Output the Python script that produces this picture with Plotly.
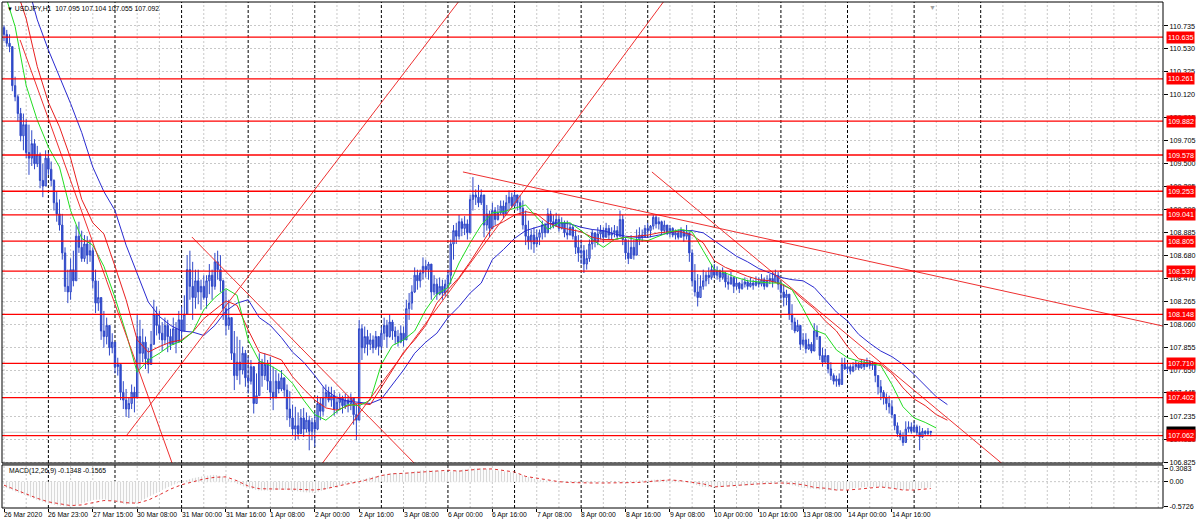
import plotly.graph_objects as go

# ---------------- data ----------------
first_open = 110.72
closes = [
 110.66,110.58,110.55,110.20,110.10,109.95,109.75,109.85,109.60,109.55,
 109.68,109.50,109.58,109.35,109.30,109.55,109.45,109.35,109.15,109.05,
 108.95,108.70,108.40,108.35,108.55,108.45,108.85,108.75,108.65,108.78,
 108.68,108.72,108.45,108.25,108.30,108.00,107.95,108.05,107.85,107.90,
 107.68,107.70,107.45,107.38,107.30,107.35,107.45,107.40,107.95,107.80,
 107.90,107.75,107.70,107.88,108.15,108.05,107.98,107.92,108.05,107.95,
 107.88,108.02,107.90,108.10,108.00,108.15,108.55,108.40,108.30,108.45,
 108.35,108.40,108.30,108.45,108.50,108.40,108.62,108.55,108.45,108.20,
 108.05,108.12,107.80,107.60,107.72,107.65,107.80,107.58,107.55,107.68,
 107.35,107.42,107.72,107.60,107.70,107.55,107.45,107.40,107.55,107.48,
 107.58,107.47,107.30,107.22,107.12,107.15,107.08,107.22,107.12,107.20,
 107.10,107.18,107.12,107.35,107.28,107.40,107.45,107.38,107.42,107.30,
 107.36,107.40,107.33,107.38,107.35,107.40,107.25,107.20,108.02,107.85,
 107.95,107.88,107.92,107.85,107.95,107.86,107.98,108.05,107.95,108.08,
 108.00,107.95,107.90,107.98,107.92,108.20,108.25,108.35,108.50,108.45,
 108.52,108.58,108.55,108.60,108.35,108.42,108.33,108.40,108.34,108.42,
 108.50,108.78,108.90,108.85,108.98,108.92,108.96,108.88,109.18,109.22,
 109.20,109.15,109.22,108.95,109.05,108.92,109.08,109.00,109.06,109.12,
 109.05,109.15,109.20,109.12,109.22,109.15,109.10,108.95,108.85,108.80,
 108.86,108.78,108.84,108.88,108.95,108.88,109.05,108.98,108.94,109.00,
 108.92,108.97,108.88,108.86,108.93,108.85,108.75,108.70,108.72,108.60,
 108.65,108.78,108.88,108.80,108.87,108.90,108.84,108.92,108.86,108.88,
 108.90,108.85,109.00,108.82,108.70,108.65,108.75,108.68,108.82,108.86,
 108.84,108.92,108.90,108.94,109.02,108.96,108.98,108.90,108.95,108.88,
 108.92,108.86,108.88,108.84,108.89,108.85,108.88,108.70,108.45,108.35,
 108.30,108.40,108.45,108.50,108.48,108.55,108.50,108.54,108.48,108.52,
 108.44,108.42,108.48,108.40,108.43,108.38,108.42,108.44,108.40,108.43,
 108.41,108.44,108.42,108.46,108.40,108.45,108.47,108.44,108.50,108.42,
 108.35,108.30,108.33,108.15,108.08,108.00,108.05,107.88,107.92,107.84,
 107.88,107.82,108.00,107.95,107.78,107.72,107.78,107.66,107.60,107.55,
 107.57,107.52,107.70,107.66,107.68,107.64,107.68,107.70,107.67,107.71,
 107.68,107.72,107.69,107.70,107.60,107.50,107.45,107.40,107.35,107.32,
 107.25,107.15,107.08,107.05,107.00,107.12,107.14,107.10,107.14,107.09,
 107.05,107.10,107.08,107.10,107.092]
highs = [
 110.74,110.70,110.66,110.55,110.28,110.12,110.00,109.95,109.90,109.85,
 109.80,109.72,109.66,109.60,109.50,109.62,109.60,109.52,109.36,109.25,
 109.18,109.05,108.75,108.55,108.65,108.72,108.95,108.98,108.90,108.86,
 108.85,108.82,108.75,108.55,108.45,108.30,108.18,108.12,108.00,107.98,
 107.82,107.76,107.65,107.55,107.48,107.40,107.52,107.50,108.15,108.10,
 108.02,107.95,107.85,108.00,108.28,108.22,108.18,108.08,108.12,108.10,
 108.02,108.12,108.08,108.18,108.22,108.32,108.68,108.72,108.62,108.55,
 108.55,108.46,108.50,108.50,108.60,108.55,108.70,108.72,108.68,108.46,
 108.37,108.28,108.07,108.00,107.95,107.92,107.86,107.83,107.77,107.74,
 107.65,107.62,107.80,107.75,107.80,107.74,107.77,107.68,107.65,107.62,
 107.65,107.58,107.52,107.46,107.34,107.32,107.27,107.30,107.31,107.27,
 107.24,107.22,107.27,107.42,107.40,107.50,107.52,107.50,107.50,107.47,
 107.42,107.44,107.42,107.44,107.42,107.44,107.40,107.35,108.10,108.06,
 108.04,108.01,107.98,107.96,108.00,107.95,108.04,108.12,108.10,108.15,
 108.10,108.04,108.01,108.05,108.04,108.28,108.34,108.41,108.57,108.55,
 108.55,108.66,108.64,108.62,108.55,108.50,108.47,108.48,108.46,108.46,
 108.55,108.82,108.95,108.97,109.04,109.01,109.03,109.00,109.22,109.38,
 109.27,109.31,109.27,109.15,109.13,109.08,109.15,109.11,109.13,109.17,
 109.17,109.22,109.26,109.24,109.26,109.22,109.22,109.17,109.08,108.99,
 108.91,108.93,108.91,108.91,108.99,108.97,109.10,109.08,109.04,109.06,
 109.04,109.02,108.99,108.99,108.97,108.95,108.91,108.86,108.82,108.77,
 108.73,108.82,108.91,108.88,108.93,108.95,108.93,108.97,108.95,108.93,
 108.95,108.94,109.08,109.04,108.84,108.82,108.86,108.82,108.91,108.93,
 108.91,108.95,108.97,108.95,109.04,109.04,109.02,108.99,108.99,108.95,
 108.95,108.93,108.91,108.91,108.93,108.91,108.95,108.86,108.73,108.60,
 108.51,108.50,108.55,108.53,108.57,108.60,108.60,108.58,108.55,108.57,
 108.53,108.50,108.53,108.46,108.48,108.44,108.46,108.48,108.46,108.48,
 108.46,108.49,108.48,108.51,108.48,108.50,108.51,108.53,108.55,108.53,
 108.44,108.42,108.37,108.28,108.24,108.12,108.10,108.00,107.98,107.98,
 107.93,107.90,108.07,108.05,107.94,107.85,107.84,107.74,107.72,107.62,
 107.60,107.62,107.76,107.76,107.72,107.70,107.72,107.74,107.72,107.74,
 107.74,107.76,107.74,107.73,107.70,107.60,107.56,107.47,107.44,107.42,
 107.38,107.20,107.18,107.11,107.09,107.19,107.19,107.18,107.19,107.16,
 107.15,107.13,107.11,107.13,107.104]
lows = [
 110.60,110.55,110.50,110.15,110.06,109.88,109.70,109.62,109.55,109.40,
 109.48,109.45,109.47,109.28,109.20,109.30,109.40,109.30,109.08,108.98,
 108.90,108.64,108.35,108.25,108.28,108.40,108.62,108.70,108.62,108.62,
 108.60,108.62,108.38,108.16,108.18,107.92,107.85,107.88,107.78,107.80,
 107.62,107.60,107.38,107.30,107.23,107.22,107.30,107.27,107.40,107.66,
 107.72,107.66,107.62,107.74,107.90,107.96,107.92,107.82,107.88,107.81,
 107.83,107.88,107.80,107.92,107.92,108.00,108.18,108.28,108.10,108.20,
 108.24,108.19,108.28,108.20,108.33,108.28,108.37,108.46,108.35,108.10,
 107.96,108.01,107.74,107.47,107.56,107.52,107.61,107.50,107.44,107.52,
 107.26,107.35,107.56,107.50,107.56,107.47,107.38,107.29,107.44,107.44,
 107.46,107.41,107.20,107.14,107.06,107.02,107.03,107.11,107.05,107.09,
 106.93,107.02,106.96,107.11,107.20,107.24,107.32,107.36,107.32,107.24,
 107.26,107.29,107.26,107.30,107.27,107.29,107.16,107.02,107.25,107.74,
 107.80,107.78,107.83,107.80,107.83,107.78,107.83,107.92,107.85,107.94,
 107.92,107.88,107.86,107.89,107.86,107.95,108.10,108.19,108.34,108.37,
 108.39,108.46,108.48,108.46,108.28,108.32,108.28,108.32,108.28,108.31,
 108.37,108.42,108.64,108.78,108.82,108.85,108.86,108.82,108.91,109.08,
 109.13,109.11,109.13,108.84,108.90,108.84,108.96,108.95,108.99,109.04,
 109.01,109.06,109.08,109.10,109.13,109.08,109.04,108.91,108.77,108.73,
 108.73,108.70,108.75,108.77,108.82,108.84,108.95,108.91,108.92,108.95,
 108.89,108.91,108.84,108.82,108.86,108.82,108.69,108.62,108.60,108.52,
 108.55,108.62,108.73,108.75,108.77,108.82,108.79,108.84,108.82,108.82,
 108.84,108.82,108.84,108.77,108.64,108.60,108.68,108.64,108.73,108.77,
 108.80,108.84,108.86,108.84,108.91,108.92,108.91,108.86,108.88,108.86,
 108.84,108.84,108.82,108.82,108.84,108.80,108.82,108.62,108.40,108.31,
 108.22,108.31,108.37,108.40,108.42,108.46,108.48,108.46,108.44,108.46,
 108.39,108.37,108.42,108.34,108.37,108.34,108.37,108.39,108.37,108.39,
 108.37,108.40,108.39,108.40,108.37,108.39,108.42,108.39,108.44,108.37,
 108.28,108.22,108.23,108.10,108.01,107.98,107.99,107.83,107.86,107.80,
 107.83,107.80,107.86,107.92,107.74,107.68,107.74,107.62,107.56,107.52,
 107.50,107.50,107.61,107.65,107.62,107.61,107.63,107.65,107.65,107.66,
 107.65,107.69,107.66,107.65,107.54,107.43,107.38,107.34,107.29,107.26,
 107.22,107.11,107.05,107.02,106.97,107.06,107.09,107.08,107.09,107.06,
 106.93,107.04,107.06,107.06,107.055]

# Alligator-style lines, one value every 4 bars (green lips, red teeth, blue jaw)
ma_step = 4
green_line = [
 111.05,110.73,110.20,109.89,109.65,109.47,109.08,108.83,108.77,108.58,
 108.30,107.98,107.63,107.74,107.80,107.87,107.91,107.99,108.19,108.30,
 108.38,108.32,107.92,107.73,107.69,107.63,107.53,107.38,107.25,107.20,
 107.28,107.34,107.33,107.38,107.70,107.87,107.92,108.00,108.19,108.33,
 108.39,108.61,108.79,108.95,109.06,109.07,109.10,109.13,109.02,108.91,
 108.97,108.97,108.90,108.82,108.75,108.82,108.84,108.82,108.81,108.85,
 108.89,108.91,108.89,108.72,108.55,108.52,108.48,108.45,108.44,108.43,
 108.43,108.37,108.20,108.01,107.97,107.83,107.76,107.73,107.71,107.69,
 107.52,107.32,107.22,107.18,107.13]
red_line = [
 111.20,111.10,110.80,110.37,110.05,109.83,109.55,109.18,108.97,108.87,
 108.58,108.28,107.92,107.81,107.86,107.90,107.92,107.99,108.11,108.19,
 108.27,108.23,108.01,107.81,107.78,107.74,107.59,107.48,107.38,107.31,
 107.29,107.33,107.35,107.34,107.49,107.65,107.81,107.92,108.05,108.25,
 108.37,108.48,108.62,108.77,108.93,108.98,109.04,109.07,109.05,108.97,
 108.93,108.91,108.89,108.84,108.82,108.82,108.84,108.85,108.86,108.88,
 108.89,108.89,108.86,108.79,108.63,108.57,108.53,108.49,108.46,108.45,
 108.42,108.37,108.28,108.20,108.09,108.00,107.86,107.75,107.73,107.70,
 107.62,107.49,107.39,107.33,107.25,107.20]
blue_line = [
 111.50,111.35,111.15,110.79,110.52,110.28,110.04,109.78,109.47,109.25,
 109.08,108.77,108.51,108.26,108.13,108.05,108.00,107.99,107.96,108.05,
 108.18,108.25,108.28,108.12,108.05,107.94,107.81,107.72,107.60,107.47,
 107.40,107.37,107.36,107.35,107.39,107.52,107.65,107.80,107.90,107.98,
 108.12,108.22,108.34,108.43,108.64,108.73,108.83,108.90,108.93,108.96,
 108.97,108.96,108.93,108.91,108.90,108.87,108.85,108.84,108.84,108.86,
 108.88,108.90,108.90,108.88,108.81,108.74,108.67,108.62,108.56,108.52,
 108.48,108.46,108.45,108.39,108.28,108.17,108.09,107.97,107.89,107.82,
 107.77,107.70,107.61,107.51,107.41,107.34]

# MACD(12,26,9): main (histogram) and signal, one value every 4 bars, last bar appended
macd_bars = list(range(0, 333, 4)) + [334]
macd_main = [
 -0.12,-0.22,-0.33,-0.42,-0.50,-0.55,-0.5726,-0.50,-0.42,-0.40,
 -0.45,-0.52,-0.48,-0.35,-0.22,-0.10,0.00,0.08,0.13,0.16,
 0.10,-0.05,-0.15,-0.20,-0.20,-0.18,-0.20,-0.24,-0.25,-0.17,
 -0.10,-0.05,0.02,0.10,0.15,0.20,0.20,0.24,0.27,0.25,
 0.22,0.26,0.30,0.3083,0.28,0.24,0.20,0.12,0.05,0.02,
 0.00,-0.01,-0.03,-0.02,0.00,0.00,0.01,0.02,0.04,0.05,
 0.04,0.02,-0.05,-0.12,-0.13,-0.12,-0.10,-0.08,-0.06,-0.05,
 -0.05,-0.08,-0.14,-0.17,-0.19,-0.20,-0.17,-0.14,-0.11,-0.12,
 -0.16,-0.19,-0.17,-0.14,-0.1348]
macd_signal = [
 -0.08,-0.18,-0.28,-0.38,-0.46,-0.51,-0.545,-0.53,-0.48,-0.43,
 -0.44,-0.48,-0.49,-0.42,-0.30,-0.17,-0.07,0.00,0.06,0.10,
 0.11,0.02,-0.10,-0.16,-0.17,-0.17,-0.17,-0.18,-0.19,-0.16,
 -0.10,-0.05,0.00,0.06,0.14,0.18,0.19,0.21,0.22,0.25,
 0.26,0.24,0.26,0.29,0.29,0.26,0.22,0.12,0.08,0.03,
 0.00,-0.02,-0.03,-0.03,-0.03,-0.03,-0.025,-0.02,0.00,0.02,
 0.04,0.02,-0.01,-0.05,-0.12,-0.10,-0.09,-0.07,-0.05,-0.04,
 -0.03,-0.04,-0.07,-0.13,-0.15,-0.19,-0.19,-0.17,-0.14,-0.12,
 -0.15,-0.19,-0.19,-0.16,-0.1565]

levels = [110.635, 110.261, 109.882, 109.578, 109.253, 109.041, 108.805,
          108.537, 108.148, 107.710, 107.402, 107.062]
bid_price = 107.092
price_ticks = [110.735, 110.530, 110.325, 110.120, 109.915, 109.705, 109.500,
               109.295, 109.090, 108.885, 108.680, 108.470, 108.265, 108.060,
               107.855, 107.650, 107.445, 107.235, 107.030, 106.825]
macd_ticks = [0.3083, 0.0, -0.5726]
macd_tick_text = ["0.3083", "0.00", "-0.5726"]
time_labels = ["26 Mar 2020", "26 Mar 23:00", "27 Mar 15:00", "30 Mar 08:00",
               "31 Mar 00:00", "31 Mar 16:00", "1 Apr 08:00", "2 Apr 00:00",
               "2 Apr 16:00", "3 Apr 08:00", "6 Apr 00:00", "6 Apr 16:00",
               "7 Apr 08:00", "8 Apr 00:00", "8 Apr 16:00", "9 Apr 08:00",
               "10 Apr 00:00", "10 Apr 16:00", "13 Apr 08:00", "14 Apr 00:00",
               "14 Apr 16:00"]
label_every = 16
grid_every = 8
day_sep_first, day_sep_every, day_sep_last = 16, 24, 352
# hand-drawn trend lines: (bar, price) -> (bar, price)
trend_lines = [
    ((44.3, 107.067), (164.3, 110.968)),
    ((5.8, 110.610), (63.4, 106.620)),
    ((67.7, 108.843), (153.5, 106.672)),
    ((112.4, 106.735), (240.0, 111.030)),
    ((165.4, 109.426), (417.7, 108.044)),
    ((233.5, 109.426), (362.5, 106.753)),
]
title_text = "USDJPY,H1  107.095 107.104 107.055 107.092"
macd_text = "MACD(12,26,9) -0.1348 -0.1565"

# ---------------- figure ----------------
X_RANGE = [-0.72, 417.7]
Y_RANGE = [106.816, 110.950]
Y2_RANGE = [-0.60, 0.38]
MAIN_DOM = [0.0889, 1.0]
MACD_DOM = [0.0, 0.0850]
FONT = "Liberation Sans"
AX_FS = 7.2
LAB_FS = 6.8
GRID_C = "#c8c8c8"

n = len(closes)
bars = list(range(n))
opens = [first_open] + closes[:-1]
hi = [max(h, o, c) for h, o, c in zip(highs, opens, closes)]
lo = [min(l, o, c) for l, o, c in zip(lows, opens, closes)]

fig = go.Figure()
fig.add_trace(go.Candlestick(
    x=bars, open=opens, high=hi, low=lo, close=closes,
    increasing=dict(line=dict(color="#2f48c8", width=1), fillcolor="#9aa8ec"),
    decreasing=dict(line=dict(color="#2f48c8", width=1), fillcolor="#2f48c8"),
    whiskerwidth=0, xaxis="x", yaxis="y", showlegend=False, hoverinfo="skip"))

for vals, col in ((blue_line, "#2a2ad0"), (red_line, "#e82020"), (green_line, "#22dd22")):
    fig.add_trace(go.Scatter(x=[k * ma_step for k in range(len(vals))], y=vals,
                             mode="lines", line=dict(color=col, width=1),
                             xaxis="x", yaxis="y", showlegend=False, hoverinfo="skip"))

for (a, b) in trend_lines:
    fig.add_trace(go.Scatter(x=[a[0], b[0]], y=[a[1], b[1]], mode="lines",
                             line=dict(color="#ee3030", width=1),
                             xaxis="x", yaxis="y", showlegend=False, hoverinfo="skip"))

# MACD histogram (hatched area) and signal
fig.add_trace(go.Scatter(x=macd_bars, y=macd_main, mode="lines", fill="tozeroy",
                         line=dict(width=0, color="#c0c0c0"),
                         fillcolor="rgba(255,255,255,0)",
                         fillpattern=dict(shape="|", fgcolor="#b4b4b4", bgcolor="white",
                                          size=3, solidity=0.4),
                         xaxis="x", yaxis="y2", showlegend=False, hoverinfo="skip"))
fig.add_trace(go.Scatter(x=macd_bars, y=macd_signal, mode="lines",
                         line=dict(color="#e03030", width=1, dash="dot"),
                         xaxis="x", yaxis="y2", showlegend=False, hoverinfo="skip"))

shapes = []
# vertical grid + day separators in both panels
for i in range(0, int(X_RANGE[1]) + 1, grid_every):
    is_sep = (i >= day_sep_first and i <= day_sep_last and (i - day_sep_first) % day_sep_every == 0)
    st = (dict(color="#000000", width=1, dash="3px,2px") if is_sep
          else dict(color=GRID_C, width=1, dash="2px,2px"))
    for yr in ("y domain", "y2 domain"):
        shapes.append(dict(type="line", xref="x", yref=yr, x0=i, x1=i, y0=0, y1=1,
                           line=st, layer="below"))
# MACD zero line
shapes.append(dict(type="line", xref="x domain", yref="y2", x0=0, x1=1, y0=0, y1=0,
                   line=dict(color=GRID_C, width=1, dash="2px,2px"), layer="below"))
# bid line
shapes.append(dict(type="line", xref="x domain", yref="y", x0=0, x1=1, y0=bid_price, y1=bid_price,
                   line=dict(color="#c8c8c8", width=1), layer="below"))
# horizontal levels
for lv in levels:
    shapes.append(dict(type="line", xref="x domain", yref="y", x0=0, x1=1, y0=lv, y1=lv,
                       line=dict(color="#ff0000", width=1.3)))
# panel borders and separator
shapes.append(dict(type="rect", xref="paper", yref="paper", x0=0, x1=1, y0=MAIN_DOM[0], y1=MAIN_DOM[1],
                   line=dict(color="#000000", width=1)))
shapes.append(dict(type="rect", xref="paper", yref="paper", x0=0, x1=1, y0=MACD_DOM[0], y1=MACD_DOM[1],
                   line=dict(color="#000000", width=1)))
shapes.append(dict(type="rect", xref="paper", yref="paper", x0=0, x1=1, y0=MACD_DOM[1], y1=MAIN_DOM[0],
                   line=dict(width=0), fillcolor="#606060"))

annotations = []
# right-axis level tags
annotations.append(dict(xref="paper", yref="y", x=1, y=bid_price, xanchor="left", xshift=3,
                        text="107.092", showarrow=False, bgcolor="#000000",
                        font=dict(family=FONT, size=AX_FS, color="white"), borderpad=1))
for lv in levels:
    annotations.append(dict(xref="paper", yref="y", x=1, y=lv, xanchor="left", xshift=3,
                            text=f"{lv:.3f}", showarrow=False, bgcolor="#ff0000",
                            font=dict(family=FONT, size=AX_FS, color="white"), borderpad=1))
# time labels (left aligned at tick)
for k, lab in enumerate(time_labels):
    annotations.append(dict(xref="x", yref="paper", x=k * label_every, y=0, xanchor="left",
                            yanchor="top", yshift=-1, xshift=-2, text=lab, showarrow=False,
                            font=dict(family=FONT, size=LAB_FS, color="#000000")))
annotations.append(dict(xref="paper", yref="paper", x=0.003, y=0.988, xanchor="left", yanchor="middle",
                        text="<span style='font-size:6px'>▼</span> " + title_text, showarrow=False,
                        font=dict(family=FONT, size=LAB_FS, color="#000000")))
annotations.append(dict(xref="paper", yref="paper", x=0.004, y=0.074, xanchor="left", yanchor="middle",
                        text=macd_text, showarrow=False,
                        font=dict(family=FONT, size=LAB_FS, color="#000000")))
annotations.append(dict(xref="x", yref="paper", x=n - 0.5, y=1, xanchor="center", yanchor="top",
                        text="▼", showarrow=False, font=dict(family=FONT, size=7, color="#a0a0a0")))

fig.update_layout(
    width=1200, height=525,
    margin=dict(l=2, r=37, t=2, b=17),
    paper_bgcolor="white", plot_bgcolor="white",
    showlegend=False,
    shapes=shapes, annotations=annotations,
    xaxis=dict(domain=[0, 1], range=X_RANGE, anchor="y2", showgrid=False, zeroline=False,
               tickvals=[k * label_every for k in range(len(time_labels))],
               showticklabels=False, ticks="outside", ticklen=3, tickcolor="#000000",
               rangeslider=dict(visible=False), fixedrange=True),
    yaxis=dict(domain=MAIN_DOM, range=Y_RANGE, side="right", anchor="x",
               tickvals=price_ticks, ticktext=[f"{v:.3f}" for v in price_ticks],
               showgrid=True, gridcolor=GRID_C, griddash="2px,2px", gridwidth=1,
               zeroline=False, ticks="outside", ticklen=4, tickcolor="#000000",
               tickfont=dict(family=FONT, size=AX_FS, color="#000000")),
    yaxis2=dict(domain=MACD_DOM, range=Y2_RANGE, side="right", anchor="x",
                tickvals=macd_ticks, ticktext=macd_tick_text, showgrid=False, zeroline=False,
                ticks="outside", ticklen=4, tickcolor="#000000",
                tickfont=dict(family=FONT, size=AX_FS, color="#000000")),
)

fig.write_html("out.html", config={"displayModeBar": False},
               post_script="document.body.style.margin='0px';document.body.style.overflow='hidden';")
